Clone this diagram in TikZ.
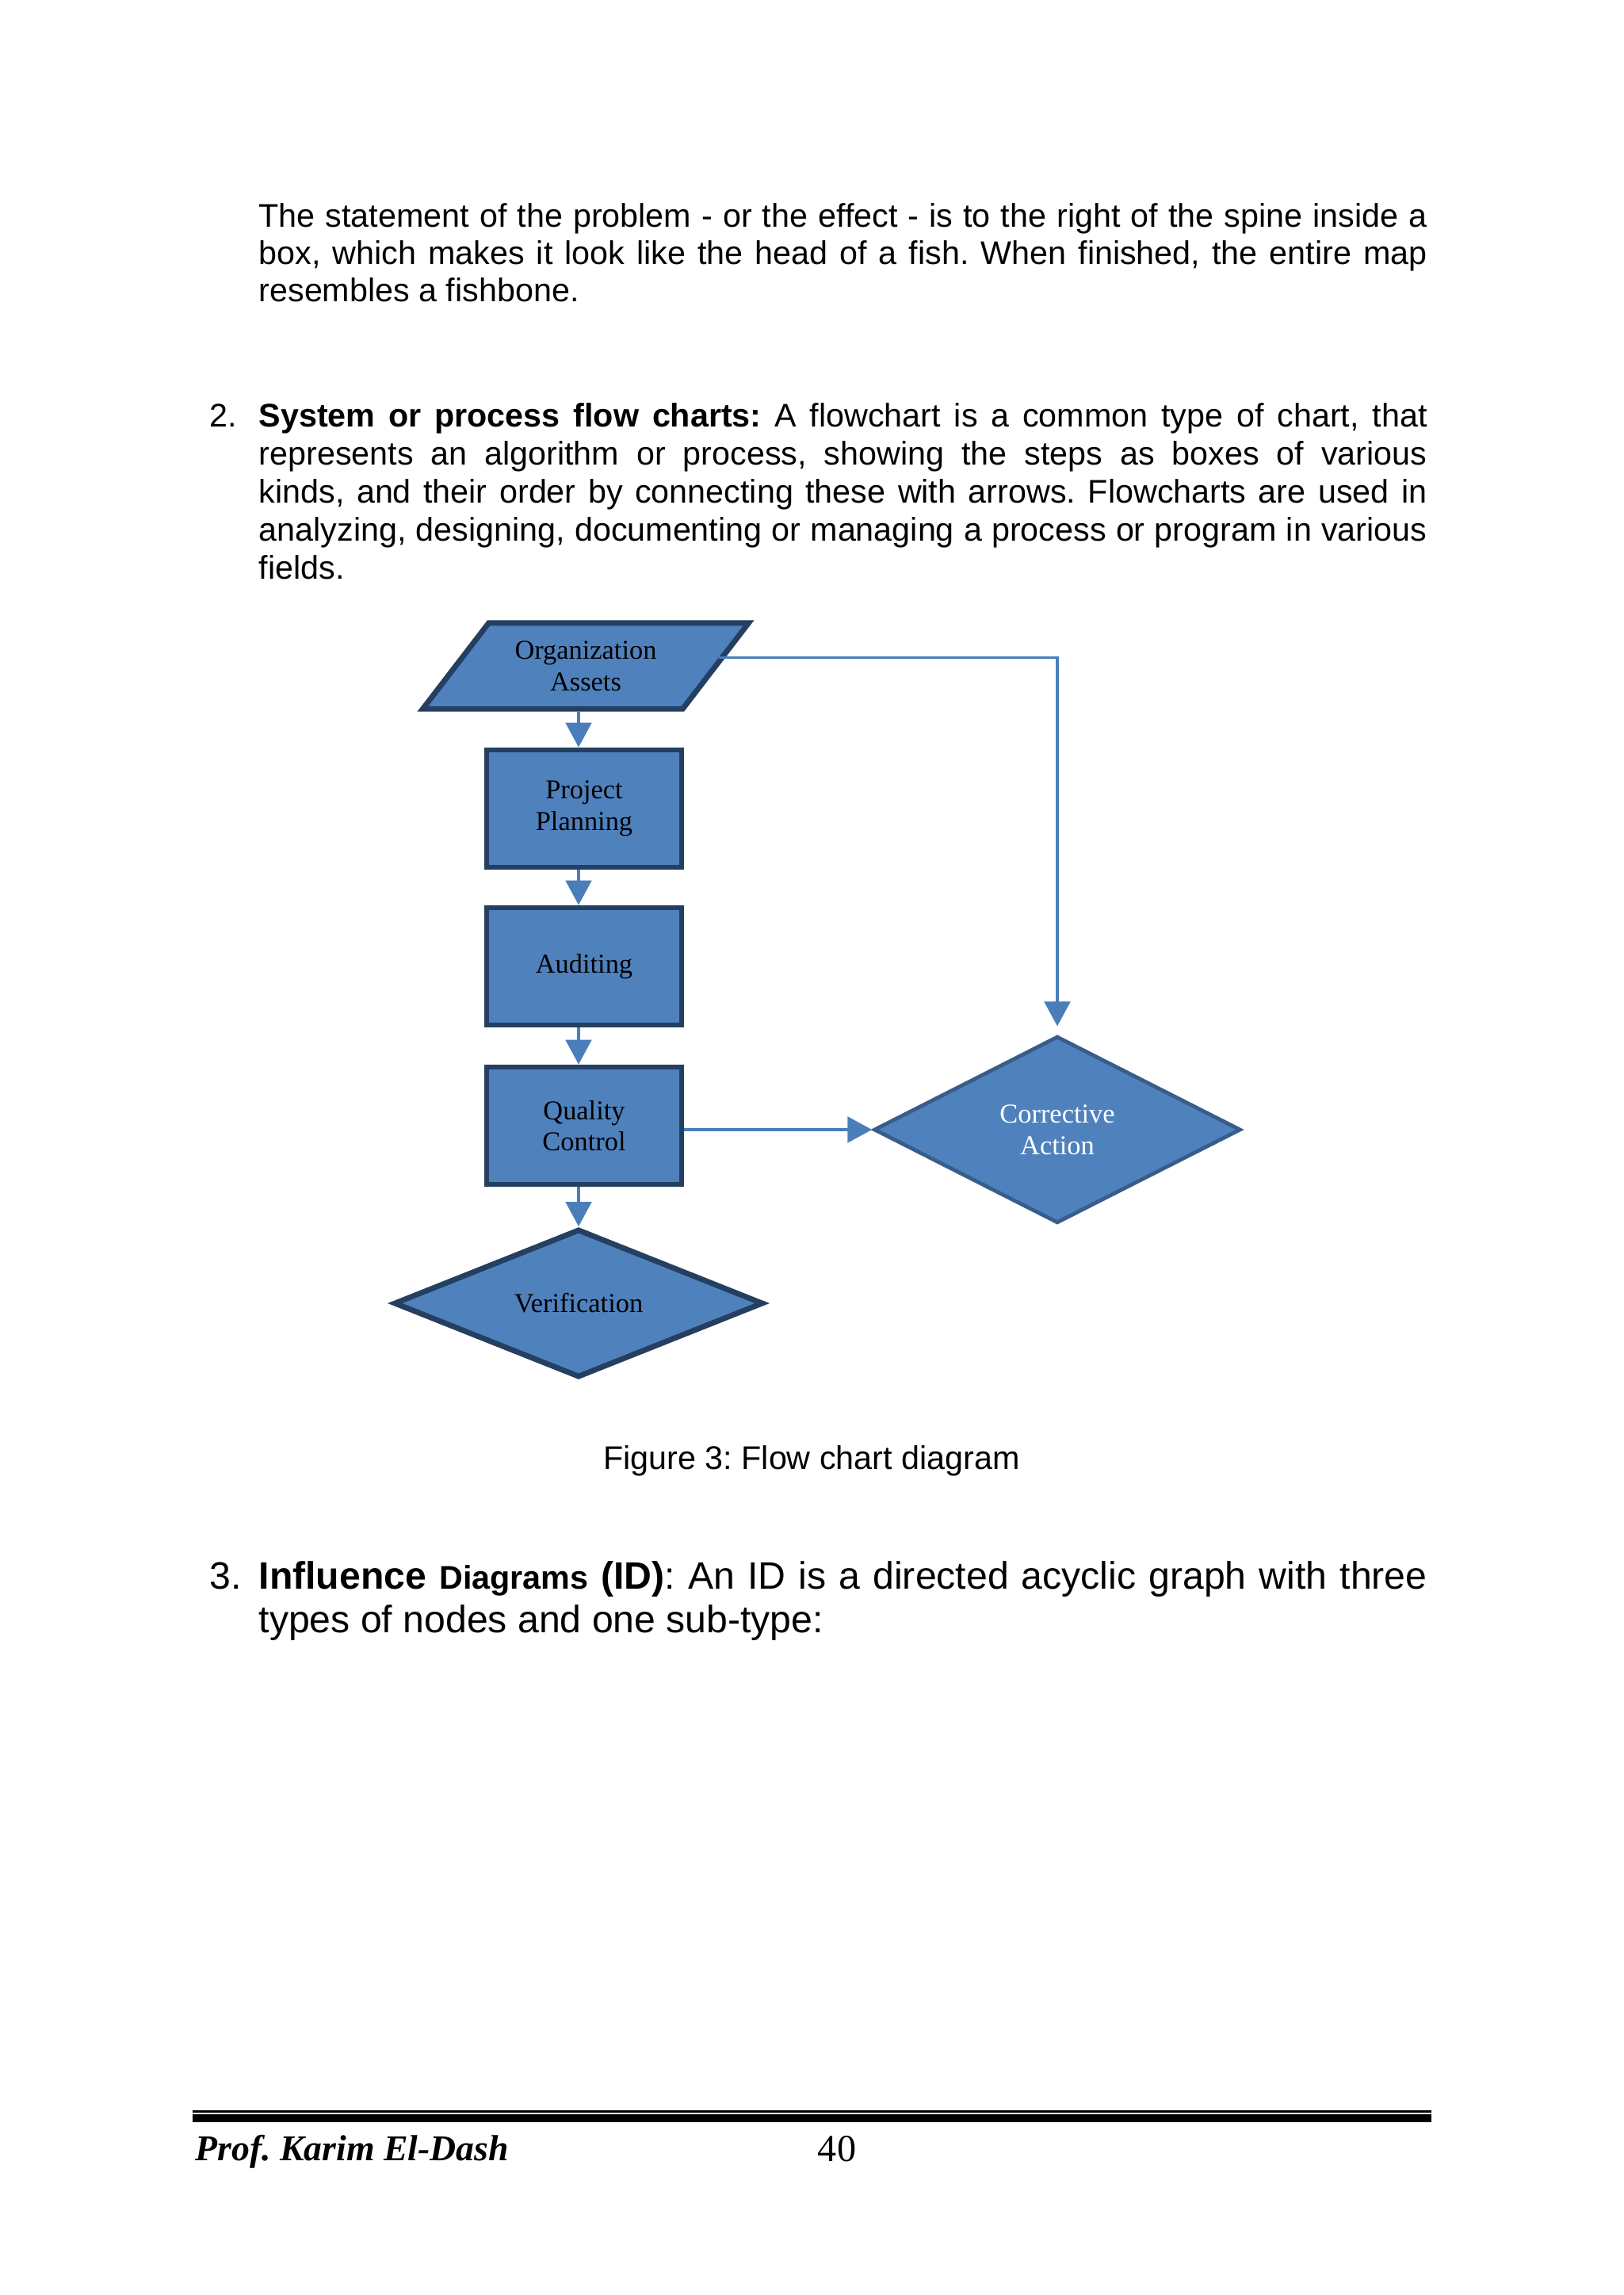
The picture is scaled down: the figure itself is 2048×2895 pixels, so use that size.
\documentclass[tikz,border=0pt]{standalone}
\usepackage{fontspec}
\setmainfont{Liberation Sans}
\newfontfamily\timesfont{Liberation Serif}
\usetikzlibrary{shapes.geometric,arrows.meta}
\frenchspacing
\definecolor{boxfill}{HTML}{4F81BD}
\definecolor{boxline}{HTML}{243F60}
\definecolor{caline}{HTML}{385D8A}
\definecolor{arrowblue}{HTML}{4A7EBB}
\tikzset{
  textpar/.style={anchor=base west,inner sep=0pt,text width=428.4pt,align=justify,
    font=\fontsize{12pt}{13.8pt}\selectfont},
  bigpar/.style={textpar,font=\fontsize{14pt}{16.1pt}\selectfont},
  chartfont/.style={font=\timesfont\fontsize{10pt}{11.5pt}\selectfont},
  stepbox/.style={chartfont,draw=boxline,line width=2pt,fill=boxfill,align=center,
    inner sep=0pt,minimum width=71.5pt,minimum height=43pt},
  inputbox/.style={chartfont,draw=boxline,line width=2pt,fill=boxfill,align=center,
    trapezium,trapezium left angle=37,trapezium right angle=143,trapezium stretches body,
    inner sep=0pt,minimum width=119.5pt,minimum height=31.5pt},
  checkbox/.style={chartfont,draw=boxline,line width=2pt,fill=boxfill,align=center,
    diamond,inner sep=0pt,minimum width=135.5pt,minimum height=54pt},
  fixbox/.style={chartfont,draw=caline,line width=1.4pt,fill=boxfill,text=white,align=center,
    diamond,inner sep=0pt,minimum width=134.5pt,minimum height=68.5pt},
  flow/.style={draw=arrowblue,line width=0.9pt,-{Triangle[length=9pt,width=9.5pt]}}
}
\begin{document}
\begin{tikzpicture}[x=0.29066pt,y=-0.29066pt]
    \useasboundingbox (0,0) rectangle (2048,2895);
    \fill[white] (0,0) rectangle (2048,2895);
    % text above the chart
    \node[textpar] (fishtext) at (326,286) {The statement of the problem - or the effect - is to the right of the spine inside a\linebreak box, which makes it look like the head of a fish. When finished, the entire map\linebreak resembles a fishbone.};
    \node[anchor=base west,inner sep=0pt,font=\fontsize{12pt}{14pt}\selectfont] (num2) at (264,538) {2.};
    \node[textpar,font=\fontsize{12pt}{14pt}\selectfont] (flowtext) at (326,538) {\textbf{System or process flow charts:} A flowchart is a common type of chart, that\linebreak represents an algorithm or process, showing the steps as boxes of various\linebreak kinds, and their order by connecting these with arrows. Flowcharts are used in\linebreak analyzing, designing, documenting or managing a process or program in various\linebreak fields.};
    % the chart
    \node[inputbox] (org) at (739,840) {Organization\\Assets};
    \node[stepbox] (plan) at (737,1020) {Project\\Planning};
    \node[stepbox] (aud) at (737,1219) {Auditing};
    \node[stepbox] (qc) at (737,1420) {Quality\\Control};
    \node[checkbox] (ver) at (730,1644) {Verification};
    \node[fixbox] (ca) at (1334,1425) {Corrective\\Action};
    \draw[flow] (ver |- org.south) -- (ver |- plan.north);
    \draw[flow] (ver |- plan.south) -- (ver |- aud.north);
    \draw[flow] (ver |- aud.south) -- (ver |- qc.north);
    \draw[flow] (ver |- qc.south) -- (ver.north);
    \draw[flow] (qc.east |- ca) -- (ca.west);
    \draw[flow,shorten >=3pt] ([yshift=3pt]org.east) -| (ca.north);
    \node[anchor=base,inner sep=0pt,font=\fontsize{12pt}{13.8pt}\selectfont] (caption) at (1024,1853) {Figure 3: Flow chart diagram};
    % text below the chart
    \node[anchor=base west,inner sep=0pt,font=\fontsize{14pt}{16.1pt}\selectfont] (num3) at (264,2004) {3.};
    \node[bigpar] (idtext) at (326,2004) {\textbf{Influence} {\fontsize{12pt}{13.8pt}\selectfont\textbf{Diagrams}} \textbf{(ID)}: An ID is a directed acyclic graph with three\linebreak types of nodes and one sub-type:};
    % footer
    \draw[black,line width=0.75pt] (243,2663.5) -- (1806,2663.5);
    \draw[black,line width=2.9pt] (243,2672) -- (1806,2672);
    \node[anchor=base west,inner sep=0pt,font=\timesfont\bfseries\itshape\fontsize{13.3pt}{16pt}\selectfont] (author) at (246,2725) {Prof. Karim El-Dash};
    \node[anchor=base,inner sep=0pt,font=\timesfont\fontsize{14pt}{16pt}\selectfont] (pagenum) at (1056,2726) {40};
\end{tikzpicture}
\end{document}
